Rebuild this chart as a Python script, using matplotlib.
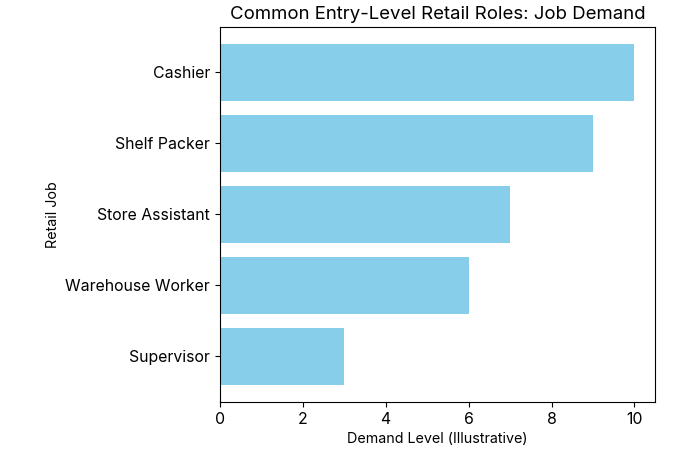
import matplotlib
matplotlib.use("Agg")
import matplotlib.pyplot as plt

plt.rcParams['font.family'] = ['Inter', 'DejaVu Sans']

jobs = ["Cashier", "Shelf Packer", "Store Assistant", "Warehouse Worker", "Supervisor"]
demand = [10, 9, 7, 6, 3]

fig = plt.figure(figsize=(7, 4.5), dpi=100)
ax = fig.add_axes([0.314, 0.107, 0.622, 0.833])
ax.barh(jobs[::-1], demand[::-1], color='skyblue')
ax.set_title("Common Entry-Level Retail Roles: Job Demand", fontsize=13.4)
ax.set_xlabel("Demand Level (Illustrative)", fontsize=10.3)
ax.set_ylabel("Retail Job", fontsize=10.3)
ax.tick_params(labelsize=11.4)
fig.savefig("out.png", dpi=100)
